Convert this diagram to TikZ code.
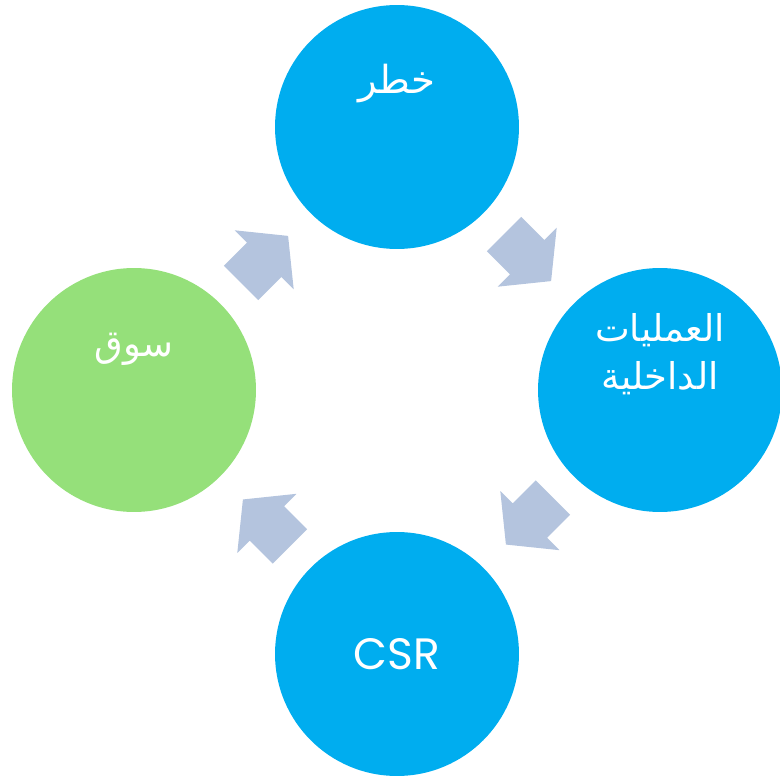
\documentclass[tikz,border=0pt]{standalone}
\usepackage{fontspec}
\setmainfont{Poppins}
\newfontfamily\arabicfont[Script=Arabic]{DejaVu Sans}
\TeXXeTstate=1
\usetikzlibrary{shapes.arrows,calc}
\definecolor{cycblue}{RGB}{0,173,239}
\definecolor{mktgreen}{RGB}{149,224,122}
\definecolor{arrowgray}{RGB}{180,196,222}
\tikzset{
  stage/.style={circle,fill=cycblue,minimum size=4.88cm,inner sep=0pt},
  caption/.style={text=white,align=center,font=\fontsize{21}{27}\selectfont},
  turn/.style={single arrow,fill=arrowgray,minimum height=1.33cm,
    inner xsep=0pt,inner ysep=0.48cm,
    single arrow head extend=0.35cm,single arrow tip angle=102}
}
\begin{document}
\begin{tikzpicture}[x=0.02cm,y=-0.02cm]
\useasboundingbox (0,0) rectangle (779,780);
% the four stages
\node[stage] (risk) at (397,127) {};
\node[stage] (ops) at (660,390) {};
\node[stage] (csr) at (397,654) {};
\node[stage,fill=mktgreen] (market) at (134,390) {};
\node[caption,font=\fontsize{22}{27}\selectfont] (risktext) at (397,84) {\arabicfont\beginR خطر\endR};
\node[caption] (opstext) at (660,354) {\arabicfont\beginR العمليات\endR\\\arabicfont\beginR الداخلية\endR};
\node[caption,font=\fontsize{25}{30}\selectfont] (csrtext) at (397,654) {CSR};
\node[caption] (markettext) at (134,349) {\arabicfont\beginR سوق\endR};
% arrows between stages
\node[turn,rotate=45] (a1) at ($(market)!0.47!(risk)$) {};
\node[turn,rotate=-45] (a2) at ($(risk)!0.47!(ops)$) {};
\node[turn,rotate=-135] (a3) at ($(ops)!0.47!(csr)$) {};
\node[turn,rotate=135] (a4) at ($(csr)!0.47!(market)$) {};
\end{tikzpicture}
\end{document}
